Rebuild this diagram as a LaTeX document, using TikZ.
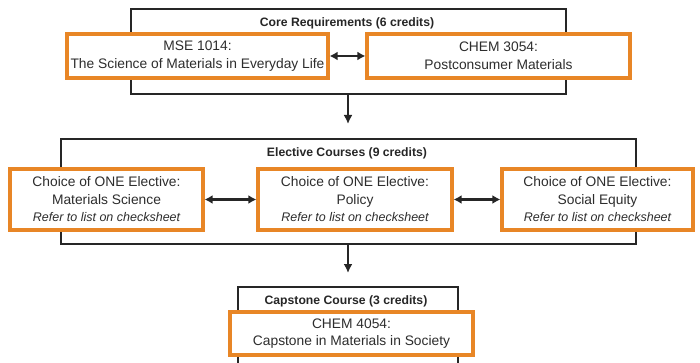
\documentclass[tikz,border=0pt]{standalone}
\usepackage{fontspec}
\setmainfont{Liberation Sans}
\usetikzlibrary{arrows.meta}
\definecolor{boxorange}{RGB}{232,134,38}
\definecolor{txtgray}{RGB}{45,45,45}
\newcommand{\refnote}[1]{{\itshape\fontsize{12.5}{14}\selectfont #1}}
\tikzset{
  container/.style={draw=black!85, line width=2.3pt, inner sep=0pt, anchor=north west},
  course/.style={draw=boxorange, line width=3.2pt, fill=white, align=center, inner sep=0pt,
    text=txtgray, font=\fontsize{13.8}{17.5}\selectfont},
  title/.style={font=\bfseries\fontsize{12.2}{14}\selectfont, text=black!85},
  link/.style={line width=2.2pt, black!85, {Latex[length=8pt,width=9pt]}-{Latex[length=8pt,width=9pt]}},
  flow/.style={line width=2.2pt, black!85, -{Latex[length=9pt,width=9pt]}}
}
\begin{document}
\begin{tikzpicture}[x=1pt,y=-1pt]
\useasboundingbox (0,0) rectangle (700,363);
\clip (0,0) rectangle (700,363);
% containers
\node[container, minimum width=435pt, minimum height=85pt] (core) at (130,8) {};
\node[container, minimum width=575pt, minimum height=105pt] (elec) at (60,138) {};
\node[container, minimum width=220pt, minimum height=100pt] (cap) at (237,286) {};
% titles
\node[title] (coret) at (347,23) {Core Requirements (6 credits)};
\node[title] (elect) at (347,153) {Elective Courses (9 credits)};
\node[title] (capt) at (346,301) {Capstone Course (3 credits)};
% courses
\node[course, minimum width=261pt, minimum height=44pt] (mse) at (197.5,56) {MSE 1014:\\The Science of Materials in Everyday Life};
\node[course, minimum width=263pt, minimum height=44pt] (chem3) at (498.5,56) {CHEM 3054:\\Postconsumer Materials};
\node[course, minimum width=193pt, minimum height=61pt] (e1) at (106.5,199.5) {Choice of ONE Elective:\\Materials Science\\\refnote{Refer to list on checksheet}};
\node[course, minimum width=194pt, minimum height=61pt] (e2) at (355,199.5) {Choice of ONE Elective:\\Policy\\\refnote{Refer to list on checksheet}};
\node[course, minimum width=191pt, minimum height=61pt] (e3) at (597.5,199.5) {Choice of ONE Elective:\\Social Equity\\\refnote{Refer to list on checksheet}};
\node[course, minimum width=243pt, minimum height=43pt] (chem4) at (351.5,333.5) {CHEM 4054:\\Capstone in Materials in Society};
% links
\draw[link] (mse.east) -- (chem3.west);
\draw[link] (e1.east) -- (e2.west);
\draw[link] (e2.east) -- (e3.west);
% flow arrows
\coordinate (t1) at (348,124);
\coordinate (t2) at (348,273);
\draw[flow] (core.south -| t1) -- (t1);
\draw[flow] (elec.south -| t2) -- (t2);
\end{tikzpicture}
\end{document}
